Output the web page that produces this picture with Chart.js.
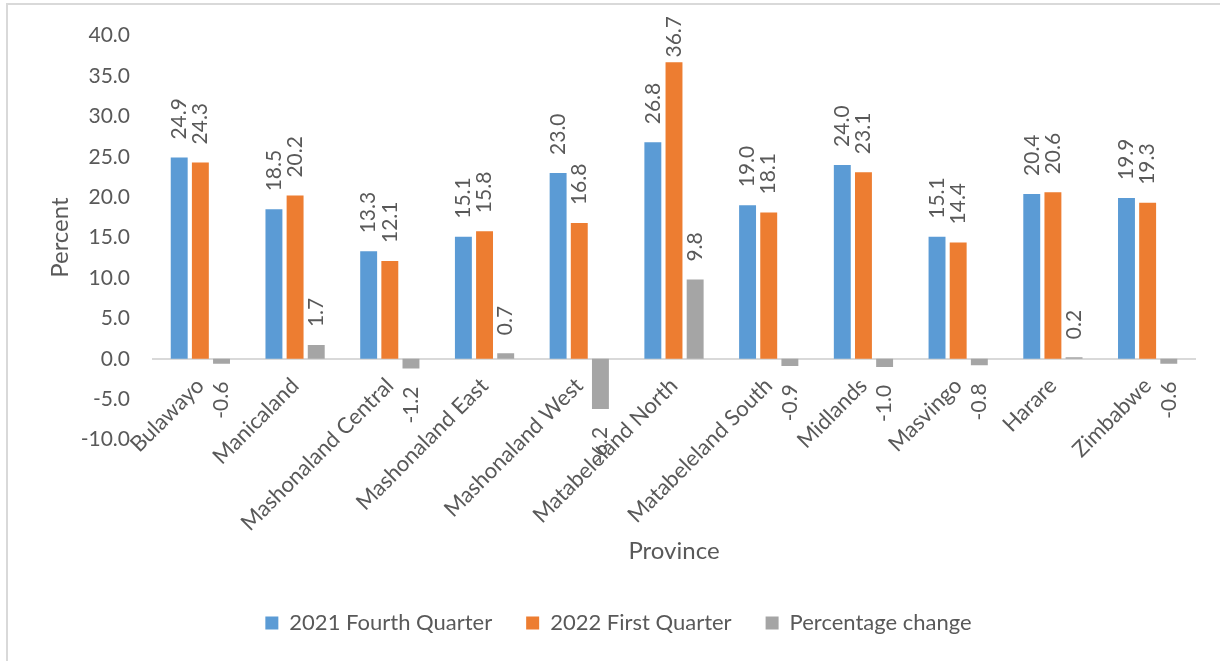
<!DOCTYPE html>
<html>
<head>
<meta charset="utf-8">
<script src="https://cdn.jsdelivr.net/npm/chart.js@4.4.0/dist/chart.umd.min.js"></script>
<style>
  body { margin: 0; background: #fff; overflow: hidden; }
  #wrap { position: relative; width: 1220px; height: 661px; }
  #frame { position: absolute; left: 6px; top: 3px; width: 1300px; height: 700px;
           border-left: 2px solid #d9d9d9; border-top: 2px solid #d9d9d9; pointer-events: none; }
</style>
</head>
<body>
<div id="wrap">
  <canvas id="provinceChart"></canvas>
  <div id="frame"></div>
</div>
<script>
var provinces = ['Bulawayo', 'Manicaland', 'Mashonaland Central', 'Mashonaland East', 'Mashonaland West',
    'Matabeleland North', 'Matabeleland South', 'Midlands', 'Masvingo', 'Harare', 'Zimbabwe'];
var fourthQuarter2021 = [24.9, 18.5, 13.3, 15.1, 23.0, 26.8, 19.0, 24.0, 15.1, 20.4, 19.9];
var firstQuarter2022 = [24.3, 20.2, 12.1, 15.8, 16.8, 36.7, 18.1, 23.1, 14.4, 20.6, 19.3];
var percentageChange = [-0.6, 1.7, -1.2, 0.7, -6.2, 9.8, -0.9, -1.0, -0.8, 0.2, -0.6];

var textColor = '#595959';
var fontFamily = 'Lato, "Open Sans", sans-serif';

// vertical value labels above (or below) each bar
var barLabels = {
    id: 'barLabels',
    afterDatasetsDraw: function(chart) {
        var ctx = chart.ctx;
        ctx.save();
        ctx.fillStyle = textColor;
        ctx.font = '21px ' + fontFamily;
        ctx.textBaseline = 'middle';
        chart.data.datasets.forEach(function(ds, i) {
            var meta = chart.getDatasetMeta(i);
            meta.data.forEach(function(bar, j) {
                var v = ds.data[j];
                var txt = v.toFixed(1);
                ctx.save();
                if (v >= 0) {
                    // keep the label inside the plot, like excel does
                    var w = ctx.measureText(txt).width;
                    var y = Math.max(bar.y - 18, 16 + w);
                    ctx.translate(bar.x, y);
                    ctx.rotate(-Math.PI / 2);
                    ctx.textAlign = 'left';
                } else {
                    ctx.translate(bar.x, bar.y + 18);
                    ctx.rotate(-Math.PI / 2);
                    ctx.textAlign = 'right';
                }
                ctx.fillText(txt, 0, 0);
                ctx.restore();
            });
        });
        ctx.restore();
    }
};

document.addEventListener("DOMContentLoaded", function() {
    var ctx = document.getElementById('provinceChart').getContext('2d');
    var provinceChart = new Chart(ctx, {
        type: 'bar',
        data: {
            labels: provinces,
            datasets: [{
                label: '2021 Fourth Quarter',
                data: fourthQuarter2021,
                backgroundColor: '#5b9bd5',
                borderWidth: 0
            }, {
                label: '2022 First Quarter',
                data: firstQuarter2022,
                backgroundColor: '#ed7d31',
                borderWidth: 0
            }, {
                label: 'Percentage change',
                data: percentageChange,
                backgroundColor: '#a5a5a5',
                borderWidth: 0
            }]
        },
        options: {
            responsive: true,
            maintainAspectRatio: false,
            animation: false,
            categoryPercentage: 0.67,
            barPercentage: 0.8,
            layout: {
                padding: { left: 42, right: 25, top: 34, bottom: 17 }
            },
            scales: {
                x: {
                    position: { y: 0 },
                    grid: { display: false, drawTicks: false },
                    border: { display: true, color: '#d9d9d9', width: 2 },
                    ticks: {
                        color: textColor,
                        font: { family: fontFamily, size: 22 },
                        minRotation: 45,
                        maxRotation: 45,
                        autoSkip: false,
                        padding: 14
                    },
                    title: {
                        display: true,
                        text: 'Province',
                        color: textColor,
                        font: { family: fontFamily, size: 24 },
                        padding: { top: -14, bottom: 4 }
                    }
                },
                y: {
                    min: -10,
                    max: 40,
                    grid: { display: false, drawTicks: false },
                    border: { display: false },
                    afterFit: function(scale) { scale.width = 111; },
                    ticks: {
                        stepSize: 5,
                        color: textColor,
                        font: { family: fontFamily, size: 21 },
                        padding: 23,
                        callback: function(v) { return v.toFixed(1); }
                    },
                    title: {
                        display: true,
                        text: 'Percent',
                        color: textColor,
                        font: { family: fontFamily, size: 24 },
                        padding: { top: 4, bottom: 7 }
                    }
                }
            },
            plugins: {
                legend: {
                    position: 'bottom',
                    title: {
                        display: true,
                        text: ' ',
                        font: { size: 12 },
                        padding: { top: 124, bottom: 0 }
                    },
                    labels: {
                        color: textColor,
                        font: { family: fontFamily, size: 22 },
                        boxWidth: 13,
                        boxHeight: 13,
                        padding: 34
                    }
                },
                tooltip: { enabled: false }
            }
        },
        plugins: [barLabels]
    });
});
</script>
</body>
</html>
